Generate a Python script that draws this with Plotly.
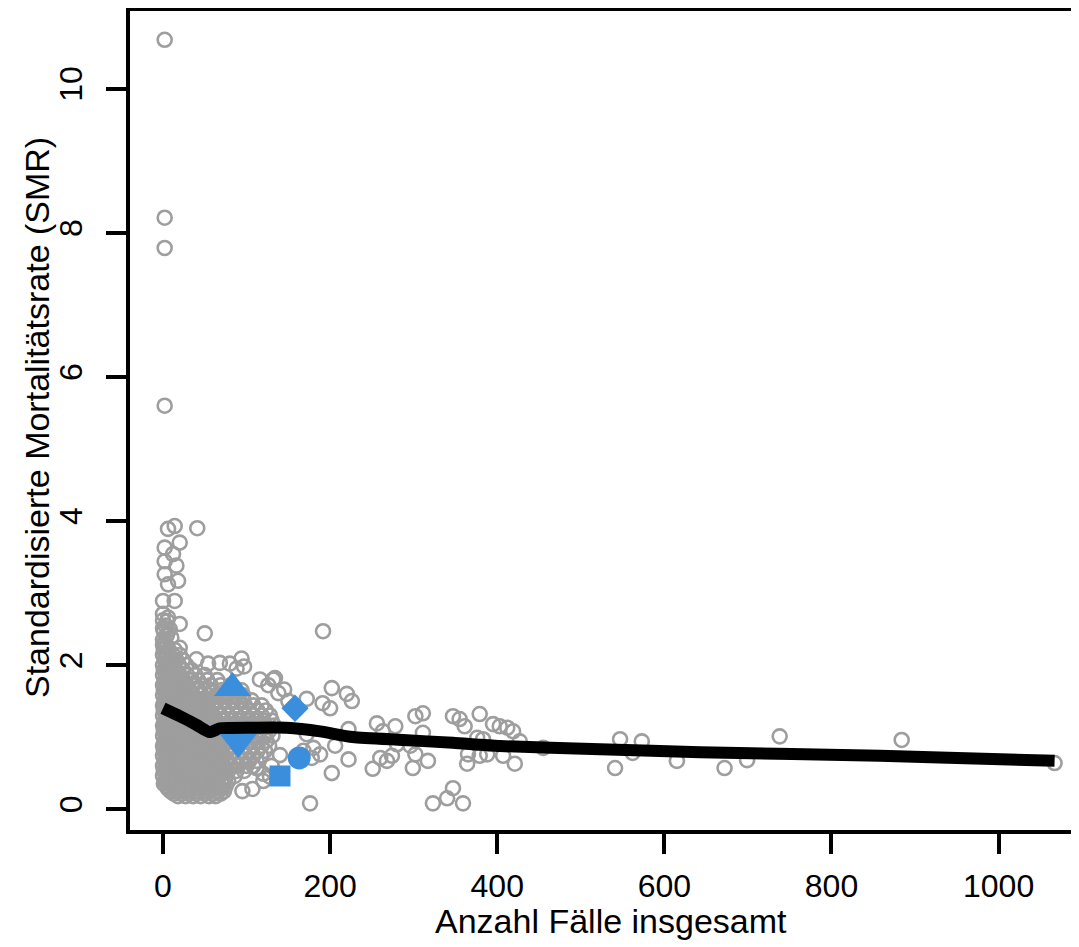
import plotly.graph_objects as go

# ---------------- data ----------------
outlier_cases = [2, 2, 2, 2]
outlier_smr = [10.68, 8.21, 7.79, 5.60]

upper_cases = [14, 6, 41, 20, 2, 12, 2, 16, 2, 18, 6, 14, 0, 0, 5,
               0, 20, 5, 50, 0, 20, 0, 3, 1, 4, 2, 6, 8, 10]
upper_smr = [3.93, 3.89, 3.90, 3.70, 3.63, 3.54, 3.44, 3.38, 3.26, 3.17, 3.12, 2.89, 2.89, 2.71, 2.61,
             2.51, 2.57, 2.43, 2.44, 2.35, 2.24, 2.62, 2.55, 2.47, 2.40, 2.32, 2.66, 2.50, 2.38]

core_smr_levels = [0.18, 0.25, 0.32, 0.39, 0.46, 0.53, 0.60, 0.67, 0.74, 0.81,
                   0.88, 0.95, 1.02, 1.09, 1.16, 1.23, 1.30, 1.37, 1.44, 1.51,
                   1.58, 1.65, 1.72, 1.79, 1.86, 1.93, 2.00, 2.07, 2.14, 2.21, 2.28]
core_cases_rows = [
    [18, 27, 36, 45, 55, 63],
    [9, 16, 24, 31, 40, 48, 57, 66, 73],
    [4, 11, 19, 26, 34, 42, 50, 58, 67, 75],
    [2, 8, 15, 22, 30, 37, 45, 53, 61, 70, 78],
    [0, 6, 13, 20, 27, 35, 43, 51, 59, 67, 76, 86],
    [1, 7, 14, 21, 29, 36, 44, 52, 60, 69, 78, 88, 97],
    [0, 5, 12, 18, 25, 33, 40, 48, 56, 64, 72, 81, 90, 100, 108],
    [2, 8, 15, 22, 29, 37, 44, 52, 60, 68, 76, 85, 94, 103, 112],
    [0, 5, 12, 19, 26, 33, 41, 49, 57, 65, 73, 81, 90, 99, 108, 117],
    [1, 7, 14, 21, 28, 36, 44, 52, 60, 68, 77, 86, 95, 104, 113, 122],
    [0, 5, 11, 18, 25, 32, 40, 48, 56, 64, 72, 81, 90, 99, 108, 118, 127],
    [2, 8, 15, 22, 29, 37, 45, 53, 61, 70, 79, 88, 97, 106, 115, 124],
    [0, 5, 12, 19, 26, 34, 42, 50, 58, 66, 75, 84, 93, 102, 112, 122, 131],
    [1, 7, 14, 21, 28, 36, 44, 52, 61, 70, 79, 88, 97, 107, 117, 127],
    [0, 4, 11, 18, 25, 33, 41, 49, 57, 66, 75, 84, 93, 103, 113, 123, 133],
    [2, 8, 15, 22, 30, 38, 46, 54, 63, 72, 81, 90, 100, 110, 120, 130],
    [0, 5, 12, 19, 27, 35, 43, 51, 60, 69, 78, 88, 98, 108, 118, 128],
    [1, 7, 14, 22, 30, 38, 46, 55, 64, 73, 83, 93, 103, 113, 123],
    [0, 4, 11, 18, 26, 34, 42, 50, 59, 68, 78, 88, 98, 108, 118],
    [2, 8, 15, 23, 31, 39, 47, 56, 65, 75, 85, 96, 106],
    [0, 5, 12, 20, 28, 36, 45, 54, 64, 74, 85, 96],
    [1, 7, 15, 23, 31, 40, 49, 59, 70, 82, 94],
    [0, 4, 11, 19, 27, 36, 46, 57, 69, 81],
    [2, 8, 15, 23, 32, 42, 53, 65],
    [0, 5, 12, 20, 29, 39, 50],
    [1, 7, 15, 24, 34],
    [0, 4, 11, 19, 28],
    [2, 8, 16, 24],
    [0, 5, 12, 20],
    [1, 7, 14],
    [0, 4],
]

core2_smr_levels = [0.215, 0.285, 0.355, 0.425, 0.495, 0.565, 0.635, 0.705, 0.775, 0.845,
                    0.915, 0.985, 1.055, 1.125, 1.195, 1.265, 1.335, 1.405, 1.475, 1.545,
                    1.615, 1.685, 1.755, 1.825, 1.895, 1.965, 2.035, 2.105, 2.175, 2.245]
core2_cases_rows = [
    [13, 22, 31, 40, 50, 60, 69],
    [6, 13, 20, 28, 36, 44, 53, 62, 70],
    [1, 7, 15, 23, 30, 38, 46, 54, 63, 72],
    [4, 11, 18, 26, 33, 41, 49, 57, 65, 74],
    [3, 10, 17, 24, 31, 39, 47, 55, 63, 72],
    [4, 10, 17, 25, 32, 40, 48, 56, 64],
    [3, 9, 15, 22, 29, 36, 44, 52, 60, 68],
    [5, 11, 18, 25, 33, 41, 48, 56, 64],
    [3, 9, 16, 23, 30, 37, 45, 53, 61, 69],
    [4, 10, 17, 24, 32, 40, 48, 56, 64],
    [2, 8, 15, 22, 29, 36, 44, 52, 60, 68],
    [5, 11, 18, 26, 33, 41, 49, 57, 66],
    [3, 9, 16, 23, 30, 38, 46, 54, 62],
    [4, 10, 17, 25, 32, 40, 48, 56, 65],
    [2, 8, 14, 21, 29, 37, 45, 53, 62],
    [5, 11, 18, 26, 34, 42, 50, 58],
    [3, 9, 16, 23, 31, 39, 47, 56],
    [4, 10, 18, 26, 34, 42, 51],
    [2, 8, 15, 22, 30, 38, 46],
    [5, 11, 19, 27, 35],
    [3, 9, 16, 24, 32],
    [4, 11, 19, 27],
    [2, 8, 15, 23],
    [5, 11, 19],
    [3, 9, 17],
    [4, 10],
    [5, 12],
    [3],
    [3],
    [2],
]

fringe_cases = [40, 54, 68, 80, 94, 97, 88, 116, 132, 138, 150,
                134, 126, 145, 95, 107, 120, 112, 120, 130, 140, 128]
fringe_smr = [2.08, 2.02, 2.03, 2.02, 2.09, 1.98, 1.95, 1.80, 1.80, 1.61, 1.50,
              1.82, 1.72, 1.66, 0.25, 0.28, 0.49, 0.57, 0.39, 0.60, 0.75, 0.45]

mid_cases = [191.5, 202, 220, 226, 172, 191, 200, 222, 256, 278,
             263, 302, 311, 311, 347, 355, 361, 379, 395, 403,
             412, 419, 427, 376, 383, 365, 364, 379, 388, 407,
             421, 455, 547, 573, 562, 541, 615, 260, 268, 274,
             251, 299, 317, 302, 323, 340, 347, 359, 176, 202,
             222, 206, 188, 180, 168, 172, 178, 280, 296, 672,
             699, 738, 884, 1067]
mid_smr = [2.47, 1.68, 1.60, 1.50, 1.53, 1.47, 1.40, 1.11, 1.19, 1.15,
           1.08, 1.29, 1.33, 1.06, 1.29, 1.25, 1.15, 1.32, 1.18, 1.15,
           1.13, 1.08, 0.94, 0.99, 0.97, 0.76, 0.63, 0.74, 0.76, 0.74,
           0.63, 0.85, 0.97, 0.94, 0.78, 0.57, 0.67, 0.71, 0.67, 0.74,
           0.56, 0.57, 0.67, 0.76, 0.08, 0.15, 0.29, 0.08, 0.08, 0.50,
           0.69, 0.88, 0.76, 0.85, 0.81, 1.04, 0.71, 0.90, 0.88, 0.57,
           0.68, 1.01, 0.96, 0.64]

smooth_cases = [0, 20, 40, 56, 68, 108, 148, 188, 227, 287, 347, 403, 523, 643, 858, 1067]
smooth_smr = [1.40, 1.29, 1.17, 1.07, 1.12, 1.13, 1.13, 1.08, 1.00, 0.96, 0.92, 0.875, 0.83, 0.79, 0.74, 0.67]

hl_cases = [83, 90, 158, 163, 140]
hl_smr = [1.68, 0.93, 1.40, 0.71, 0.46]
hl_symbols = ["triangle-up", "triangle-down", "diamond", "circle", "square"]
hl_sizes = [32, 32, 21, 23, 21]

x_ticks = [0, 200, 400, 600, 800, 1000]
y_ticks = [0, 2, 4, 6, 8, 10]
x_title = "Anzahl Fälle insgesamt"
y_title = "Standardisierte Mortalitätsrate (SMR)"

# ---------------- assemble ----------------
core_cases, core_smr = [], []
for lvl, row in zip(core_smr_levels + core2_smr_levels, core_cases_rows + core2_cases_rows):
    core_cases.extend(row)
    core_smr.extend([lvl] * len(row))

all_cases = outlier_cases + upper_cases + core_cases + fringe_cases + mid_cases
all_smr = outlier_smr + upper_smr + core_smr + fringe_smr + mid_smr

GRAY = "#9E9E9E"
BLUE = "#3A8EDB"
FONT = "Liberation Sans, Arial, sans-serif"

fig = go.Figure()
fig.add_trace(go.Scatter(
    x=all_cases, y=all_smr, mode="markers",
    marker=dict(symbol="circle-open", size=14, color=GRAY, opacity=1,
                line=dict(width=2.6, color=GRAY)),
    hoverinfo="skip",
))
fig.add_trace(go.Scatter(
    x=smooth_cases, y=smooth_smr, mode="lines",
    line=dict(color="black", width=12, shape="spline", smoothing=0.6),
    hoverinfo="skip",
))
fig.add_trace(go.Scatter(
    x=hl_cases, y=hl_smr, mode="markers",
    marker=dict(symbol=hl_symbols, size=hl_sizes, color=BLUE, opacity=1, line=dict(width=0)),
    hoverinfo="skip",
))

# page body has an 8px default margin -> compensate
OFF = 8
W, H = 1079 - OFF, 947 - OFF
L, T = 130 - OFF, 11 - OFF
PLOT_BOTTOM = 830 - OFF
B = H - PLOT_BOTTOM
plot_w = W - L
plot_h = H - T - B

fig.update_layout(
    width=W, height=H,
    margin=dict(l=L, r=0, t=T, b=B, pad=0),
    paper_bgcolor="white", plot_bgcolor="white",
    showlegend=False,
    font=dict(family=FONT, size=32, color="black"),
    xaxis=dict(
        range=[-39.5, 1096.2], tickvals=x_ticks, ticktext=[str(v) for v in x_ticks],
        showgrid=False, zeroline=False,
        showline=True, linecolor="black", linewidth=4, mirror=True,
        ticks="outside", ticklen=20, tickwidth=4, tickcolor="black",
        ticklabelstandoff=5,
        tickfont=dict(family=FONT, size=32, color="black"),
    ),
    yaxis=dict(
        range=[-0.29, 11.08], tickvals=y_ticks, ticktext=[str(v) for v in y_ticks],
        showgrid=False, zeroline=False,
        showline=True, linecolor="black", linewidth=4, mirror=False,
        ticks="outside", ticklen=20, tickwidth=4, tickcolor="black",
        tickangle=-90, ticklabelstandoff=11,
        tickfont=dict(family=FONT, size=32, color="black"),
    ),
    annotations=[
        dict(text=x_title, xref="paper", yref="paper",
             x=(611 - OFF - L) / plot_w, y=0, xanchor="center", yanchor="middle",
             yshift=-(921 - 830), showarrow=False,
             font=dict(family=FONT, size=34, color="black")),
        dict(text=y_title, xref="paper", yref="paper",
             x=0, y=(830 - 418) / plot_h, xanchor="center", yanchor="middle",
             xshift=-(130 - 37), textangle=-90, showarrow=False,
             font=dict(family=FONT, size=34, color="black")),
    ],
)

fig.write_html("out.html")
